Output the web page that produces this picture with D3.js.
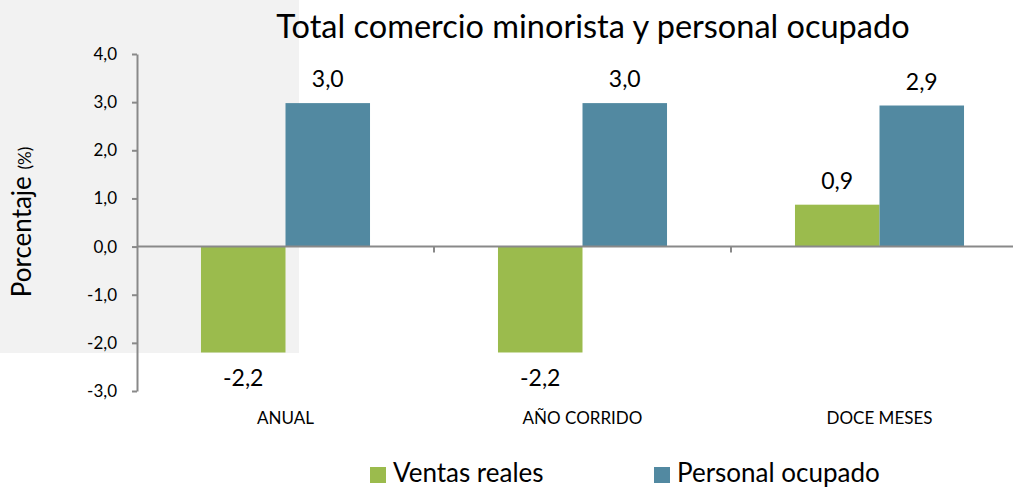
<!DOCTYPE html>
<html>
<head>
<meta charset="utf-8">
<script src="https://cdn.jsdelivr.net/npm/d3@7"></script>
<style>
  body { margin: 0; background: #fff; }
  text { font-family: Lato, "Noto Sans", sans-serif; fill: #000; }
</style>
</head>
<body>
<div id="chart-area"></div>
<script>
// Total comercio minorista y personal ocupado - grouped bars

// data
const categories = ["ANUAL", "AÑO CORRIDO", "DOCE MESES"]
const seriesNames = ["Ventas reales", "Personal ocupado"]
const ventas = [-2.2, -2.2, 0.87]
const personal = [2.98, 2.98, 2.93]
const tickValues = [-3, -2, -1, 0, 1, 2, 3, 4]
const colors = ["#9bbb4d", "#5289a1"]

const WIDTH = 1013
const HEIGHT = 487

const svg = d3.select("#chart-area").append("svg")
    .attr("width", WIDTH)
    .attr("height", HEIGHT)

// grey panel behind top-left
svg.append("rect")
    .attr("x", 0).attr("y", 0)
    .attr("width", 299).attr("height", 353)
    .attr("fill", "#f2f2f2")

const y = d3.scaleLinear()
    .domain([-3, 4])
    .range([391, 54])

const x0 = d3.scaleBand()
    .domain(categories)
    .range([137, 1028])

const x1 = d3.scaleBand()
    .domain(seriesNames)
    .range([0, x0.bandwidth()])
    .paddingInner(0)
    .paddingOuter(0.757)

const rows = categories.map((c, i) => ({
    cat: c,
    vals: [
        { name: seriesNames[0], value: ventas[i], color: colors[0] },
        { name: seriesNames[1], value: personal[i], color: colors[1] }
    ]
}))

// comma decimal, plain hyphen for negatives
const fmt = v => d3.format(".1f")(v).replace(".", ",").replace("\u2212", "-")

// title
svg.append("text")
    .attr("x", 593)
    .attr("y", 38)
    .attr("text-anchor", "middle")
    .attr("font-size", "32.5px")
    .text("Total comercio minorista y personal ocupado")

// bars
const groups = svg.selectAll("g.cat")
    .data(rows)
    .enter().append("g")
    .attr("class", "cat")
    .attr("transform", d => `translate(${x0(d.cat)}, 0)`)

groups.selectAll("rect")
    .data(d => d.vals)
    .enter().append("rect")
    .attr("x", d => x1(d.name))
    .attr("width", x1.bandwidth())
    .attr("y", d => y(Math.max(0, d.value)))
    .attr("height", d => Math.abs(y(d.value) - y(0)))
    .attr("fill", d => d.color)

groups.selectAll("text.lbl")
    .data(d => d.vals)
    .enter().append("text")
    .attr("class", "lbl")
    .attr("x", d => x1(d.name) + x1.bandwidth() / 2)
    .attr("y", d => d.value >= 0 ? y(d.value) - 16 : y(d.value) + 34)
    .attr("text-anchor", "middle")
    .attr("font-size", "23px")
    .text(d => fmt(d.value))

// y axis
const yAxisCall = d3.axisLeft(y)
    .tickValues(tickValues)
    .tickSize(5)
    .tickSizeOuter(0)
    .tickPadding(15)
    .tickFormat(fmt)

const yAxisGroup = svg.append("g")
    .attr("transform", "translate(137, 0)")
    .call(yAxisCall)
yAxisGroup.select(".domain").attr("stroke", "#898989").attr("stroke-width", 2)
yAxisGroup.selectAll(".tick line").attr("stroke", "#898989").attr("stroke-width", 2)
yAxisGroup.selectAll(".tick text")
    .attr("font-family", "Lato, 'Noto Sans', sans-serif")
    .attr("font-size", "17px")
    .attr("fill", "#000")

// x axis at zero
const xAxisGroup = svg.append("g")
    .attr("transform", `translate(0, ${y(0)})`)
xAxisGroup.append("line")
    .attr("x1", x0.range()[0])
    .attr("x2", x0.range()[1])
    .attr("stroke", "#898989")
    .attr("stroke-width", 2)
xAxisGroup.selectAll("line.tick")
    .data(categories.slice(1))
    .enter().append("line")
    .attr("class", "tick")
    .attr("x1", d => x0(d)).attr("x2", d => x0(d))
    .attr("y1", 0).attr("y2", 6)
    .attr("stroke", "#898989")
    .attr("stroke-width", 2)

// category labels
svg.selectAll("text.cat-label")
    .data(categories)
    .enter().append("text")
    .attr("class", "cat-label")
    .attr("x", d => x0(d) + x0.bandwidth() / 2)
    .attr("y", 424)
    .attr("text-anchor", "middle")
    .attr("font-size", "17px")
    .text(d => d)

// y label
const yLabel = svg.append("text")
    .attr("transform", "translate(31, 222) rotate(-90)")
    .attr("text-anchor", "middle")
yLabel.append("tspan").attr("font-size", "26px").text("Porcentaje ")
yLabel.append("tspan").attr("font-size", "17px").text("(%)")

// legend
const legendX = [370, 654]
const legend = svg.selectAll("g.legend")
    .data(seriesNames)
    .enter().append("g")
    .attr("class", "legend")
    .attr("transform", (d, i) => `translate(${legendX[i]}, 467)`)
legend.append("rect")
    .attr("width", 16).attr("height", 16)
    .attr("fill", (d, i) => colors[i])
legend.append("text")
    .attr("x", 23)
    .attr("y", 15)
    .attr("font-size", "26px")
    .text(d => d)
</script>
</body>
</html>
